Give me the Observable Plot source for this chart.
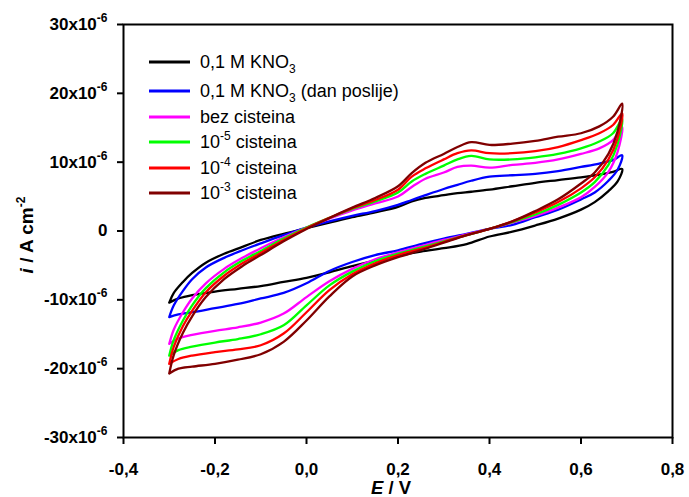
<!DOCTYPE html>
<html><head><meta charset="utf-8">
<script src="https://cdn.jsdelivr.net/npm/d3@7"></script>
<script src="https://cdn.jsdelivr.net/npm/@observablehq/plot@0.6"></script>
<style>body{margin:0;background:#fff} svg{display:block}</style>
</head><body><div id="chart"></div>
<script>
// Series (legend order)
const seriesNames = ["0,1 M KNO3", "0,1 M KNO3 (dan poslije)", "bez cisteina", "10-5 cisteina", "10-4 cisteina", "10-3 cisteina"];
const seriesColors = ["#000000", "#0000ff", "#ff00ff", "#00ff00", "#ff0000", "#800000"];

// Potential E / V on the anodic (forward) and cathodic (reverse) sweeps
const fwdE = [-0.3, -0.29, -0.27, -0.25, -0.22, -0.18, -0.14, -0.1, -0.05, 0, 0.05, 0.1, 0.15, 0.2, 0.23, 0.26, 0.3, 0.33, 0.36, 0.4, 0.45, 0.5, 0.55, 0.6, 0.64, 0.67, 0.69];
const revE = [0.68, 0.66, 0.63, 0.6, 0.55, 0.5, 0.45, 0.4, 0.35, 0.3, 0.25, 0.2, 0.15, 0.1, 0.05, 0, -0.05, -0.1, -0.15, -0.2, -0.25, -0.28, -0.3];

// Current density i in units of 10^-6 A cm^-2
const kno3Fwd    = [-10.4, -9.0, -7.4, -6.1, -4.6, -3.3, -2.3, -1.3, -0.4, 0.4, 1.2, 2.0, 2.7, 3.5, 4.3, 4.8, 5.2, 5.5, 5.7, 6.0, 6.5, 7.0, 7.4, 7.8, 8.2, 8.6, 9.0];
const kno3Rev    = [7.2, 5.8, 4.2, 3.1, 1.8, 0.8, -0.1, -0.8, -1.9, -2.5, -3.0, -3.6, -4.3, -5.1, -6.0, -6.8, -7.4, -8.0, -8.4, -8.8, -9.3, -9.8, -10.4];
const kno3dFwd   = [-12.5, -10.8, -8.7, -7.0, -5.3, -3.9, -2.8, -1.8, -0.6, 0.5, 1.4, 2.2, 2.9, 3.8, 4.5, 5.2, 6.1, 6.7, 7.3, 7.9, 8.1, 8.3, 8.7, 9.3, 9.8, 10.3, 11.0];
const kno3dRev   = [8.9, 7.3, 5.6, 4.6, 3.1, 2.0, 0.9, 0.3, -0.4, -1.1, -1.9, -2.8, -3.5, -4.5, -5.8, -7.6, -9.0, -9.8, -10.6, -11.2, -11.8, -12.1, -12.5];
const bezFwd     = [-16.4, -14.3, -11.8, -9.8, -7.6, -5.5, -3.9, -2.5, -0.9, 0.5, 1.8, 3.0, 4.0, 5.0, 6.4, 7.6, 8.5, 9.3, 9.5, 9.2, 9.6, 9.9, 10.4, 11.2, 12.0, 13.2, 15.1];
const bezRev     = [11.5, 8.6, 6.4, 4.9, 3.4, 2.2, 1.2, 0.3, -0.5, -1.3, -2.2, -3.1, -4.1, -5.5, -7.3, -9.6, -12.0, -13.3, -14.0, -14.5, -15.1, -15.6, -16.4];
const cis5Fwd    = [-18.1, -15.8, -13.0, -10.8, -8.3, -6.0, -4.3, -2.9, -1.1, 0.5, 1.9, 3.2, 4.3, 5.6, 7.2, 8.3, 9.5, 10.4, 10.9, 10.4, 10.4, 10.7, 11.2, 12.0, 13.0, 14.2, 16.3];
const cis5Rev    = [12.6, 9.6, 7.1, 5.6, 3.8, 2.4, 1.3, 0.3, -0.6, -1.5, -2.4, -3.3, -4.4, -5.9, -7.9, -10.8, -13.7, -15.0, -15.7, -16.2, -16.8, -17.3, -18.1];
const cis4Fwd    = [-19.3, -16.8, -13.8, -11.6, -8.9, -6.5, -4.7, -3.2, -1.3, 0.4, 1.9, 3.3, 4.5, 6.0, 7.9, 9.1, 10.4, 11.3, 11.7, 11.3, 11.3, 11.6, 12.2, 13.2, 14.2, 15.4, 17.1];
const cis4Rev    = [13.5, 10.4, 7.8, 6.2, 4.2, 2.7, 1.4, 0.3, -0.6, -1.6, -2.6, -3.5, -4.7, -6.3, -8.6, -11.8, -14.9, -16.6, -17.2, -17.6, -18.1, -18.6, -19.3];
const cis3Fwd    = [-20.7, -18.0, -14.8, -12.4, -9.6, -7.0, -5.1, -3.5, -1.5, 0.3, 1.9, 3.4, 4.8, 6.5, 8.4, 9.9, 11.2, 12.2, 12.9, 12.5, 12.7, 13.1, 13.7, 14.2, 15.2, 16.6, 18.5];
const cis3Rev    = [14.5, 11.2, 8.5, 6.9, 4.6, 2.9, 1.4, 0.3, -0.6, -1.7, -2.8, -3.8, -5.0, -6.6, -9.5, -13.0, -16.1, -17.9, -18.7, -19.3, -19.7, -20.0, -20.7];

// Axis ticks
const xTicks = [-0.4, -0.2, 0, 0.2, 0.4, 0.6, 0.8];
const yTicks = [-30, -20, -10, 0, 10, 20, 30];
const yTickExponent = "-6";

const fwdSets = [kno3Fwd, kno3dFwd, bezFwd, cis5Fwd, cis4Fwd, cis3Fwd];
const revSets = [kno3Rev, kno3dRev, bezRev, cis5Rev, cis4Rev, cis3Rev];

const rows = [];
seriesNames.forEach((name, s) => {
  fwdE.forEach((E, j) => rows.push({series: name, E, i: fwdSets[s][j]}));
  revE.forEach((E, j) => rows.push({series: name, E, i: revSets[s][j]}));
});

const font = "'Liberation Sans', Arial, Helvetica, sans-serif";

const chart = Plot.plot({
  width: 689, height: 497,
  marginLeft: 123, marginRight: 17, marginTop: 24, marginBottom: 60,
  style: {fontFamily: font, background: "#fff", color: "#000"},
  x: {domain: [-0.4, 0.8]},
  y: {domain: [-30, 30]},
  color: {domain: seriesNames, range: seriesColors},
  marks: [
    Plot.line(rows, {x: "E", y: "i", z: "series", stroke: "series", strokeWidth: 2.3, curve: "catmull-rom"}),
    Plot.frame({stroke: "#000", strokeWidth: 2}),
    Plot.axisX({ticks: xTicks, tickSize: 7, tickPadding: 18, strokeWidth: 2,
      tickFormat: d => d.toFixed(1).replace(".", ","), fontSize: 17, fontWeight: "bold", label: null}),
    Plot.axisY({ticks: yTicks, tickSize: 6, tickPadding: 10, strokeWidth: 2,
      tickFormat: d => d === 0 ? "0" : `${d}x10`, fontSize: 17, fontWeight: "bold", label: null})
  ]
});

const svg = d3.select(chart);
// superscripts on y tick labels
svg.selectAll('[aria-label="y-axis tick label"] text').each(function() {
  const t = d3.select(this);
  if (t.text() !== "0") t.append("tspan").attr("dy", -8).attr("font-size", 12).text(yTickExponent);
});

// axis titles
const yt = svg.append("text").attr("transform", "translate(33,235) rotate(-90)")
  .attr("text-anchor", "middle").attr("font-family", font).attr("font-size", 19).attr("font-weight", "bold");
yt.append("tspan").attr("font-style", "italic").text("i");
yt.append("tspan").text(" / A cm");
yt.append("tspan").attr("dy", -8).attr("font-size", 12).text("-2");

const xt = svg.append("text").attr("x", 391).attr("y", 493.5)
  .attr("text-anchor", "middle").attr("font-family", font).attr("font-size", 18.5).attr("font-weight", "bold");
xt.append("tspan").attr("font-style", "italic").text("E");
xt.append("tspan").text(" / V");

// legend
const legendRows = [62, 91, 117, 142, 168, 193];
const lg = svg.append("g").attr("font-family", font).attr("font-size", 18).attr("text-anchor", "start");
seriesNames.forEach((name, k) => {
  const y = legendRows[k];
  lg.append("line").attr("x1", 149).attr("x2", 190).attr("y1", y).attr("y2", y)
    .attr("stroke", seriesColors[k]).attr("stroke-width", 3);
  const t = lg.append("text").attr("x", 200).attr("y", y + 6).attr("text-anchor", "start");
  if (name.startsWith("0,1 M KNO3")) {
    t.append("tspan").text("0,1 M KNO");
    t.append("tspan").attr("dy", 5).attr("font-size", 12).text("3");
    const rest = name.slice("0,1 M KNO3".length);
    if (rest) t.append("tspan").attr("dy", -5).text(rest);
  } else if (name.startsWith("10-")) {
    t.append("tspan").text("10");
    t.append("tspan").attr("dy", -8).attr("font-size", 12).text(name.slice(2, 4));
    t.append("tspan").attr("dy", 8).text(name.slice(4));
  } else {
    t.text(name);
  }
});

document.getElementById("chart").appendChild(chart);
</script>
</body></html>
